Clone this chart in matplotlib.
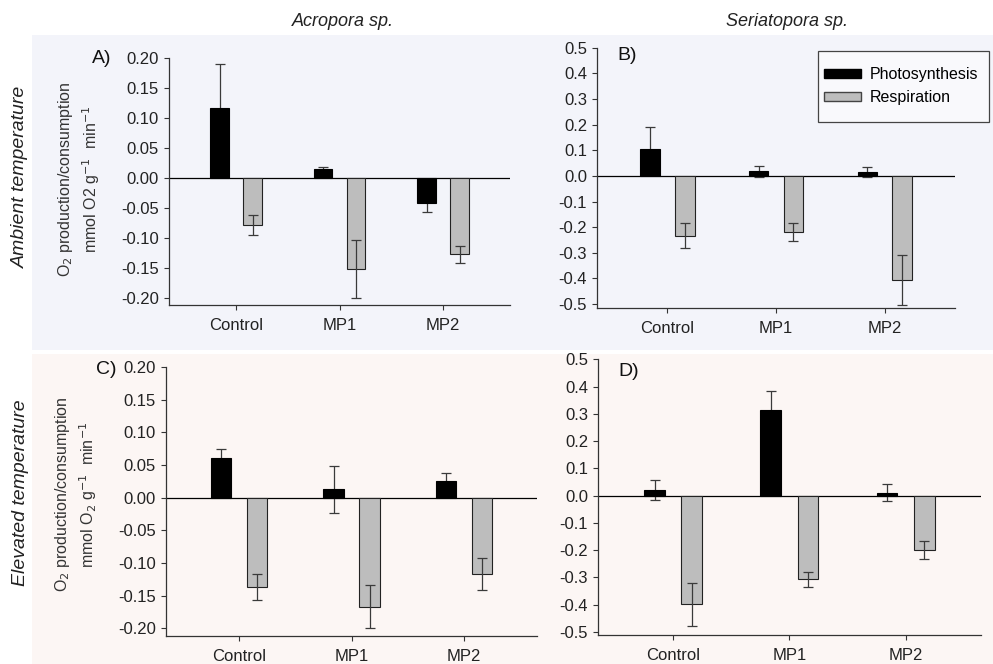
import matplotlib

matplotlib.use("Agg")

import matplotlib.pyplot as plt
import numpy as np
from matplotlib.patches import Patch, Rectangle

plt.rcParams["font.family"] = ["Liberation Sans", "DejaVu Sans"]

categories = ["Control", "MP1", "MP2"]

# panel A: Acropora, ambient
a_photo = [0.116, 0.015, -0.042]
a_photo_err = [0.073, 0.003, 0.015]
a_resp = [-0.079, -0.152, -0.128]
a_resp_err = [0.016, 0.048, 0.014]

# panel B: Seriatopora, ambient
b_photo = [0.104, 0.018, 0.014]
b_photo_err = [0.085, 0.022, 0.020]
b_resp = [-0.233, -0.220, -0.406]
b_resp_err = [0.048, 0.036, 0.097]

# panel C: Acropora, elevated
c_photo = [0.061, 0.013, 0.026]
c_photo_err = [0.013, 0.036, 0.012]
c_resp = [-0.137, -0.167, -0.117]
c_resp_err = [0.020, 0.033, 0.024]

# panel D: Seriatopora, elevated
d_photo = [0.021, 0.313, 0.010]
d_photo_err = [0.036, 0.070, 0.031]
d_resp = [-0.399, -0.307, -0.200]
d_resp_err = [0.080, 0.027, 0.032]

PHOTO_COLOR = "black"
RESP_COLOR = "#bdbdbd"
ERR_COLOR = "#3a3a3a"

fig = plt.figure(figsize=(9.93, 6.64), dpi=100)

# coloured bands behind each row
fig.patches.append(Rectangle((0.032, 0.473), 0.968, 0.474, transform=fig.transFigure,
                             facecolor="#f3f4fa", edgecolor="none", zorder=-10))
fig.patches.append(Rectangle((0.032, 0.0), 0.968, 0.467, transform=fig.transFigure,
                             facecolor="#fcf6f4", edgecolor="none", zorder=-10))


def bar_panel(rect, photo, photo_err, resp, resp_err, ylim, yticks, fmt, label, label_xy):
    ax = fig.add_axes(rect)
    ax.set_facecolor("none")
    x = np.arange(len(categories))
    w = 0.18
    # photosynthesis error bars sit behind the black bars (hidden inside them)
    ax.errorbar(x - 0.16, photo, yerr=photo_err, fmt="none", ecolor=ERR_COLOR,
                elinewidth=0.9, capsize=3.5, capthick=0.9, zorder=1.5)
    ax.bar(x - 0.16, photo, w, color=PHOTO_COLOR, edgecolor="black", linewidth=0.8, zorder=2)
    ax.bar(x + 0.16, resp, w, color=RESP_COLOR, edgecolor="#222222", linewidth=0.8, zorder=2)
    ax.errorbar(x + 0.16, resp, yerr=resp_err, fmt="none", ecolor=ERR_COLOR,
                elinewidth=0.9, capsize=3.5, capthick=0.9, zorder=3)
    ax.axhline(0, color="black", linewidth=0.9, zorder=1)
    ax.set_xlim(-0.65, 2.65)
    ax.set_ylim(*ylim)
    ax.set_yticks(yticks)
    ax.set_yticklabels([fmt.format(t + 0.0) for t in yticks])
    ax.set_xticks(x)
    ax.set_xticklabels(categories)
    for s in ["top", "right"]:
        ax.spines[s].set_visible(False)
    for s in ["left", "bottom"]:
        ax.spines[s].set_color("#333333")
        ax.spines[s].set_linewidth(0.9)
    ax.spines["left"].set_bounds(ylim[0], yticks[-1])
    ax.tick_params(axis="both", labelsize=12, length=3.5, width=0.8, color="#333333",
                   labelcolor="#222222")
    ax.tick_params(axis="x", pad=6)
    fig.text(label_xy[0], label_xy[1], label, fontsize=14, color="#111111",
             ha="left", va="center")
    return ax


yt_small = np.round(np.arange(-0.20, 0.201, 0.05), 2)
yt_big = np.round(np.arange(-0.5, 0.501, 0.1), 1)

bar_panel([0.170, 0.541, 0.344, 0.372], a_photo, a_photo_err, a_resp, a_resp_err,
          (-0.212, 0.2), yt_small, "{:.2f}", "A)", (0.093, 0.912))
bar_panel([0.601, 0.536, 0.361, 0.392], b_photo, b_photo_err, b_resp, b_resp_err,
          (-0.516, 0.5), yt_big, "{:.1f}", "B)", (0.622, 0.917))
bar_panel([0.167, 0.042, 0.374, 0.405], c_photo, c_photo_err, c_resp, c_resp_err,
          (-0.212, 0.2), yt_small, "{:.2f}", "C)", (0.097, 0.443))
bar_panel([0.602, 0.044, 0.386, 0.415], d_photo, d_photo_err, d_resp, d_resp_err,
          (-0.51, 0.5), yt_big, "{:.1f}", "D)", (0.623, 0.440))

# legend: frame drawn separately so padding matches the original box
fig.patches.append(Rectangle((818 / 993, 1 - 122 / 664), 171 / 993, 71 / 664,
                             transform=fig.transFigure, facecolor="#f9f9fc",
                             edgecolor="#444444", linewidth=0.9, zorder=5))
handles = [Patch(facecolor=PHOTO_COLOR, edgecolor="black", label="Photosynthesis"),
           Patch(facecolor=RESP_COLOR, edgecolor="#444444", label="Respiration")]
leg = fig.legend(handles=handles, loc="center left", bbox_to_anchor=(0.830, 1 - 86 / 664),
                 fontsize=11.5, frameon=False, handlelength=2.3, handleheight=0.55,
                 borderpad=0.0, borderaxespad=0.0, labelspacing=0.5, handletextpad=0.55)
leg.set_zorder(6)

# column titles
fig.text(0.345, 0.967, "Acropora sp.", fontsize=13, style="italic", ha="center",
         va="center", color="#222222")
fig.text(0.793, 0.967, "Seriatopora sp.", fontsize=13, style="italic", ha="center",
         va="center", color="#222222")

# row titles
fig.text(0.021, 0.733, "Ambient temperature", fontsize=14, style="italic", rotation=90,
         ha="center", va="center", color="#222222")
fig.text(0.021, 0.258, "Elevated temperature", fontsize=14, style="italic", rotation=90,
         ha="center", va="center", color="#222222")

# y-axis labels
fig.text(0.066, 0.730, "O$_2$ production/consumption", fontsize=11.5, rotation=90,
         ha="center", va="center", color="#333333")
fig.text(0.092, 0.730, "mmol O2 g$^{-1}$  min$^{-1}$", fontsize=11.5, rotation=90,
         ha="center", va="center", color="#333333")
fig.text(0.063, 0.255, "O$_2$ production/consumption", fontsize=11.5, rotation=90,
         ha="center", va="center", color="#333333")
fig.text(0.089, 0.255, "mmol O$_2$ g$^{-1}$  min$^{-1}$", fontsize=11.5, rotation=90,
         ha="center", va="center", color="#333333")

fig.savefig("out.png", dpi=100)
